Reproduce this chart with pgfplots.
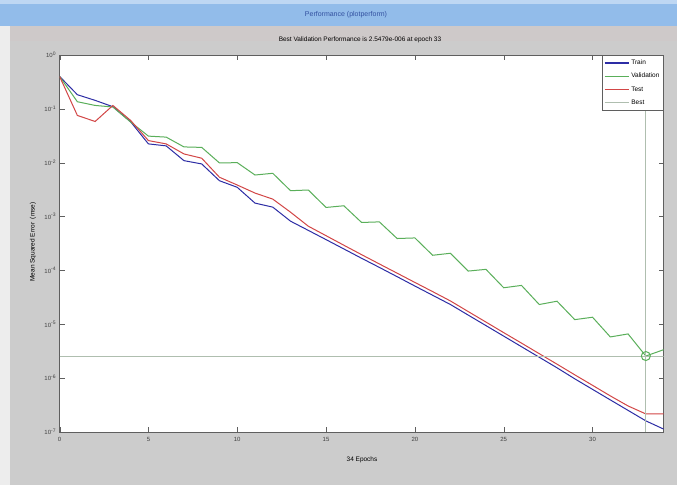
\documentclass[border=0pt]{standalone}
\usepackage{pgfplots}
\pgfplotsset{compat=1.18}
\usepackage{fontspec}
\setmainfont{Liberation Sans}
\definecolor{bg}{RGB}{204,204,204}
\definecolor{barc}{RGB}{146,188,234}
\definecolor{bartxt}{RGB}{50,80,160}
\definecolor{trainc}{RGB}{45,45,165}
\definecolor{valc}{RGB}{90,175,90}
\definecolor{testc}{RGB}{210,70,70}
\definecolor{bestc}{RGB}{175,190,175}
\definecolor{framec}{RGB}{95,95,95}
\definecolor{stripc}{RGB}{206,201,201}
\begin{document}
\begin{tikzpicture}
\path[use as bounding box] (0pt,0pt) rectangle (677pt,485pt);
\fill[bg] (0pt,0pt) rectangle (677pt,485pt);
\fill[black!7] (0pt,0pt) rectangle (10pt,459pt);
\fill[stripc] (10pt,444pt) rectangle (677pt,459pt);
\fill[barc] (0pt,459pt) rectangle (677pt,481pt);
\fill[barc!60!white] (0pt,481pt) rectangle (677pt,485pt);
\node[font=\fontsize{7}{8}\selectfont, text=bartxt] at (346pt,470pt) {Performance (plotperform)};
\begin{axis}[
  at={(59.6pt,53.3pt)}, anchor=south west,
  scale only axis, width=604pt, height=376.7pt,
  xmin=0, xmax=34, ymin=1e-7, ymax=1,
  ymode=log, log basis y=10,
  axis background/.style={fill=white},
  axis line style={framec},
  xtick={0,5,10,15,20,25,30},
  ytick={1e-7,1e-6,1e-5,1e-4,1e-3,1e-2,1e-1,1},
  tick align=inside, xtick pos=both, ytick pos=both,
  major tick length=5pt, minor tick length=2.5pt,
  tick style={framec},
  minor y tick num=9,
  every tick label/.append style={font=\fontsize{6}{7}\selectfont, text=black!75},
  /pgf/number format/assume math mode=true,
  yticklabel={\pgfmathparse{int(round(\tick))}10\textsuperscript{\pgfmathresult}},
  xticklabel style={yshift=-2pt},
  legend style={at={(1,1)}, anchor=north east, draw=framec, font=\fontsize{6.5}{7.5}\selectfont, inner xsep=2pt, inner ysep=2.5pt, row sep=3.2pt, fill=white},
  legend cell align=left,
  legend image code/.code={\draw[#1, line width=1.4pt] (0pt,0pt) -- (24pt,0pt);},
]
\addplot[trainc, line width=1pt] coordinates {(0,0.40)(1,0.183)(2,0.1436)(3,0.1094)(4,0.0574)(5,0.0223)(6,0.0205)(7,0.01089)(8,0.00946)(9,0.00461)(10,0.00348)(11,0.00177)(12,0.00149)(13,8.17e-4)(14,5.51e-4)(15,3.71e-4)(16,2.49e-4)(17,1.67e-4)(18,1.13e-4)(19,7.60e-5)(20,5.09e-5)(21,3.43e-5)(22,2.31e-5)(23,1.47e-5)(24,9.37e-6)(25,5.97e-6)(26,3.80e-6)(27,2.42e-6)(28,1.54e-6)(29,9.61e-7)(30,6.12e-7)(31,3.90e-7)(32,2.49e-7)(33,1.59e-7)(34,1.12e-7)};
\addlegendentry{Train}
\addplot[valc, line width=1pt] coordinates {(0,0.40)(1,0.1355)(2,0.1156)(3,0.1081)(4,0.0568)(5,0.0311)(6,0.0298)(7,0.0196)(8,0.0192)(9,0.00986)(10,0.0100)(11,0.00589)(12,0.00634)(13,0.00301)(14,0.00310)(15,0.00147)(16,0.00158)(17,7.73e-4)(18,7.93e-4)(19,3.89e-4)(20,3.99e-4)(21,1.90e-4)(22,2.07e-4)(23,9.66e-5)(24,1.04e-4)(25,4.73e-5)(26,5.23e-5)(27,2.31e-5)(28,2.66e-5)(29,1.21e-5)(30,1.34e-5)(31,5.77e-6)(32,6.56e-6)(33,2.5479e-6)(34,3.34e-6)};
\addlegendentry{Validation}
\addplot[testc, line width=1pt] coordinates {(0,0.40)(1,0.0754)(2,0.0582)(3,0.1156)(4,0.0608)(5,0.0257)(6,0.0223)(7,0.01452)(8,0.01208)(9,0.00535)(10,0.00384)(11,0.00272)(12,0.00210)(13,0.00120)(14,6.59e-4)(15,4.39e-4)(16,2.92e-4)(17,1.95e-4)(18,1.31e-4)(19,8.83e-5)(20,5.94e-5)(21,4.01e-5)(22,2.69e-5)(23,1.71e-5)(24,1.09e-5)(25,6.93e-6)(26,4.43e-6)(27,2.82e-6)(28,1.80e-6)(29,1.14e-6)(30,7.28e-7)(31,4.63e-7)(32,3.01e-7)(33,2.14e-7)(34,2.14e-7)};
\addlegendentry{Test}
\addplot[bestc, line width=0.8pt] coordinates {(0,2.5479e-6)(34,2.5479e-6)};
\addlegendentry{Best}
\addplot[bestc, line width=0.8pt, forget plot] coordinates {(33,1e-7)(33,1)};
\addplot[valc, line width=1pt, only marks, mark=o, mark size=4.5pt, forget plot] coordinates {(33,2.5479e-6)};
\end{axis}
\node[font=\fontsize{6.5}{7.5}\selectfont] at (360pt,445pt) {Best Validation Performance is 2.5479e-006 at epoch 33};
\node[font=\fontsize{6.5}{7.5}\selectfont] at (362pt,25pt) {34 Epochs};
\node[font=\fontsize{6.5}{7.5}\selectfont, rotate=90] at (33pt,243pt) {Mean Squared Error \ (mse)};
\end{tikzpicture}
\end{document}
